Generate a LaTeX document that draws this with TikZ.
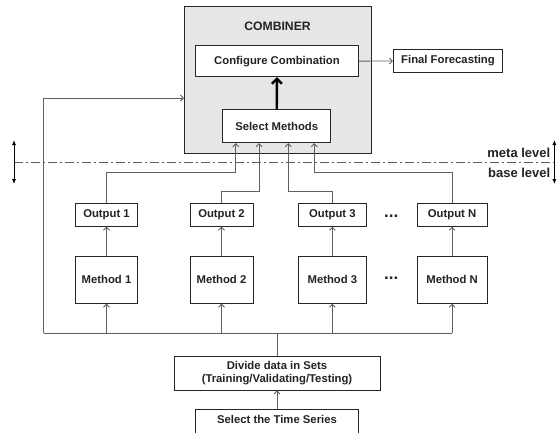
\documentclass[tikz,border=0pt]{standalone}
\usepackage{fontspec}
\setmainfont{Liberation Sans}
\usetikzlibrary{arrows.meta,positioning}
\definecolor{linegray}{RGB}{95,95,95}
\definecolor{txtgray}{RGB}{35,35,35}
\definecolor{combgray}{RGB}{230,230,230}

\begin{document}
\begin{tikzpicture}[x=1pt,y=-1pt]%
\useasboundingbox (0,0) rectangle (558,432);
\tikzstyle{box}=[draw=black!85,fill=white,inner sep=0pt,text=txtgray,align=center,font=\bfseries\fontsize{11.3}{13.5}\selectfont,line width=.8pt]
\tikzstyle{flow}=[draw=linegray,line width=.9pt,-{Straight Barb[length=3pt,width=6pt]}]
\tikzstyle{wire}=[draw=linegray,line width=.9pt]
\tikzstyle{lbl}=[text=txtgray,inner sep=0pt,font=\bfseries\fontsize{11.3}{14}\selectfont]
                        %% combiner
                        \node[box,fill=combgray,minimum width=187pt,minimum height=147.7pt] (comb) at (277.5,79.9) {}; %%
                        \node[lbl,font=\bfseries\fontsize{12.2}{14}\selectfont] (combl) at (277.5,26.7) {COMBINER}; %%
                        \node[box,minimum width=163.3pt,minimum height=31.2pt] (config) at (277,61.1) {Configure Combination}; %%
                        \node[box,minimum width=109.4pt,minimum height=23.4pt] (final) at (448,61) {Final Forecasting}; %%
                        \node[box,minimum width=108pt,minimum height=33.4pt] (selm) at (276.7,126) {Select Methods}; %%
                        %% base level
                        \node[box,minimum width=62pt,minimum height=23pt] (out1) at (106.5,214.8) {Output 1}; %%
                        \node[box,minimum width=63pt,minimum height=23pt] (out2) at (221.5,214.8) {Output 2}; %%
                        \node[box,minimum width=68.3pt,minimum height=23pt] (out3) at (332.4,214.8) {Output 3}; %%
                        \node[box,minimum width=69.8pt,minimum height=23pt] (outN) at (452.1,214.8) {Output N}; %%
                        \node[box,minimum width=62pt,minimum height=47pt] (meth1) at (106.5,279.8) {Method 1}; %%
                        \node[box,minimum width=63pt,minimum height=47pt] (meth2) at (221.5,279.8) {Method 2}; %%
                        \node[box,minimum width=68.3pt,minimum height=47pt] (meth3) at (332.4,279.8) {Method 3}; %%
                        \node[box,minimum width=69.8pt,minimum height=47pt] (methN) at (452.1,279.8) {Method N}; %%
                        \node[lbl,anchor=base,font=\bfseries\fontsize{17}{17}\selectfont] (dots1) at (391.3,217) {...}; %%
                        \node[lbl,anchor=base,font=\bfseries\fontsize{17}{17}\selectfont] (dots2) at (391.3,279) {...}; %%
                        \node[box,minimum width=206pt,minimum height=34pt] (divide) at (277,373) {Divide data in Sets\\(Training/Validating/Testing)}; %%
                        \node[box,anchor=north,minimum width=163.5pt,inner ysep=5pt,text height=9.3pt,text depth=6pt] (selts) at (277,408.7) {Select the Time Series}; %%
                        \node[lbl,anchor=east,font=\bfseries\fontsize{13}{14}\selectfont] (meta) at (550.5,153.3) {meta level}; %%
                        \node[lbl,anchor=east,font=\bfseries\fontsize{13}{14}\selectfont] (base) at (550.5,173.3) {base level}; %%
                        \coordinate (fb) at (184,98); %%
                        \coordinate (busw) at (43.7,333); %%
                        \coordinate (bus) at (277,333); %%
                        %% connectors
                        \draw[line width=2.4pt,-{Straight Barb[length=5pt,width=10pt]}] (selm) -- (config); %%
                        \draw[flow] (config) -- (final); %%
                        \draw[flow] (meth1) -- (out1); %%
                        \draw[flow] (meth2) -- (out2); %%
                        \draw[flow] (meth3) -- (out3); %%
                        \draw[flow] (methN) -- (outN); %%
                        \draw[flow] (out1.north) -- ++(0,-30) -| ([xshift=-41pt]selm.south); %%
                        \draw[flow] (out2.north) -- ++(0,-11.8) -| ([xshift=-17.7pt]selm.south); %%
                        \draw[flow] (out3.north) -- ++(0,-11.8) -| ([xshift=11.6pt]selm.south); %%
                        \draw[flow] (outN.north) -- ++(0,-30) -| ([xshift=37.6pt]selm.south); %%
                        \draw[wire] (divide) -- (bus); %%
                        \draw[wire] (busw) -- (bus -| methN); %%
                        \draw[flow] (busw) |- (fb); %%
                        \draw[flow] (bus -| meth1) -- (meth1); %%
                        \draw[flow] (bus -| meth2) -- (meth2); %%
                        \draw[flow] (bus -| meth3) -- (meth3); %%
                        \draw[flow] (bus -| methN) -- (methN); %%
                        \draw[flow] (selts) -- (divide); %%
                        %% levels
                        \draw[linegray,line width=.9pt,dash pattern=on 9pt off 3pt on 2pt off 3pt] (14,162.7) -- (558,162.7); %%
                        \draw[black,line width=.8pt,{Latex[length=5pt,width=4pt]}-{Latex[length=5pt,width=4pt]}] (14,140) -- (14,184); %%
                        \draw[black,line width=.8pt,{Latex[length=5pt,width=4pt]}-{Latex[length=5pt,width=4pt]}] (554.4,140) -- (554.4,184); %%
\end{tikzpicture}
\end{document}
